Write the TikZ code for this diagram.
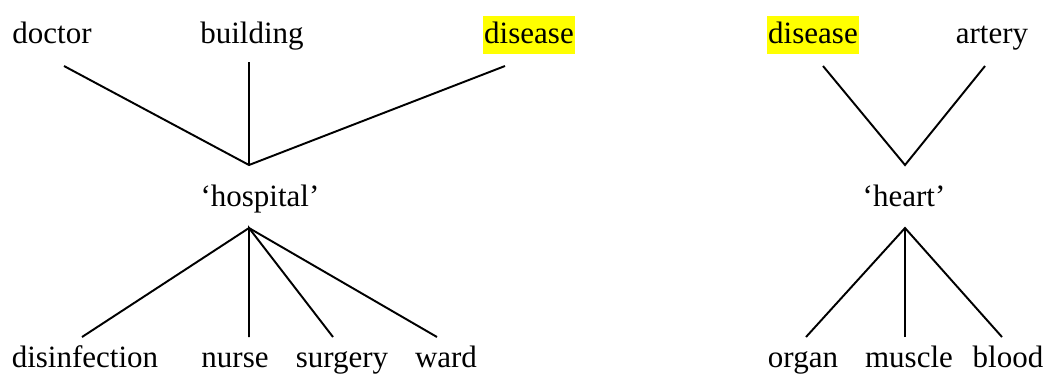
\documentclass[tikz,border=0pt]{standalone}
\usepackage{fontspec}
\setmainfont{Liberation Serif}
\usepackage{tikz}
\usetikzlibrary{positioning}
\definecolor{hlyellow}{RGB}{255,255,0}
\tikzset{
  word/.style={inner sep=0pt, anchor=base, font=\fontsize{12}{14}\selectfont},
  hlword/.style={word, fill=hlyellow, inner xsep=0.6pt, inner ysep=1.3pt,
    text height=9pt, text depth=2.8pt},
  link/.style={line width=0.75pt, color=black}
}
\begin{document}
\begin{tikzpicture}[x=0.387pt, y=-0.387pt]
  \useasboundingbox (0,0) rectangle (1046,376);
  % left tree
  \node[word] (doctor) at (52,43) {doctor};
  \node[word] (building) at (252,43) {building};
  \node[hlword] (disL) at (529,43) {disease};
  \node[word] (hospital) at (260,206) {`hospital'};
  \node[word] (disinf) at (85,367) {disinfection};
  \node[word] (nurse) at (235,367) {nurse};
  \node[word] (surgery) at (342,367) {surgery};
  \node[word] (ward) at (446,367) {ward};
  \coordinate (hosUp) at (249,165);
  \coordinate (hosDn) at (249,228);
  \coordinate (doctorEnd) at (64,66);
  \coordinate (buildingEnd) at (249,62);
  \coordinate (disLEnd) at (505,66);
  \coordinate (disinfEnd) at (82,337);
  \coordinate (nurseEnd) at (249,337);
  \coordinate (surgeryEnd) at (333,337);
  \coordinate (wardEnd) at (437,337);
  \draw[link] (doctorEnd) -- (hosUp) -- (disLEnd);
  \draw[link] (buildingEnd) -- (hosUp);
  \draw[link] (disinfEnd) -- (hosDn) -- (wardEnd);
  \draw[link] (nurseEnd) -- (hosDn) -- (surgeryEnd);
  % right tree
  \node[hlword] (disR) at (813,43) {disease};
  \node[word] (artery) at (992,43) {artery};
  \node[word] (heart) at (904,206) {`heart'};
  \node[word] (organ) at (803,367) {organ};
  \node[word] (muscle) at (909,367) {muscle};
  \node[word] (blood) at (1008,367) {blood};
  \coordinate (heartUp) at (905,165);
  \coordinate (heartDn) at (905,228);
  \coordinate (disREnd) at (823,66);
  \coordinate (arteryEnd) at (985,66);
  \coordinate (organEnd) at (806,337);
  \coordinate (muscleEnd) at (905,337);
  \coordinate (bloodEnd) at (1002,337);
  \draw[link] (disREnd) -- (heartUp) -- (arteryEnd);
  \draw[link] (organEnd) -- (heartDn) -- (bloodEnd);
  \draw[link] (muscleEnd) -- (heartDn);
\end{tikzpicture}
\end{document}
